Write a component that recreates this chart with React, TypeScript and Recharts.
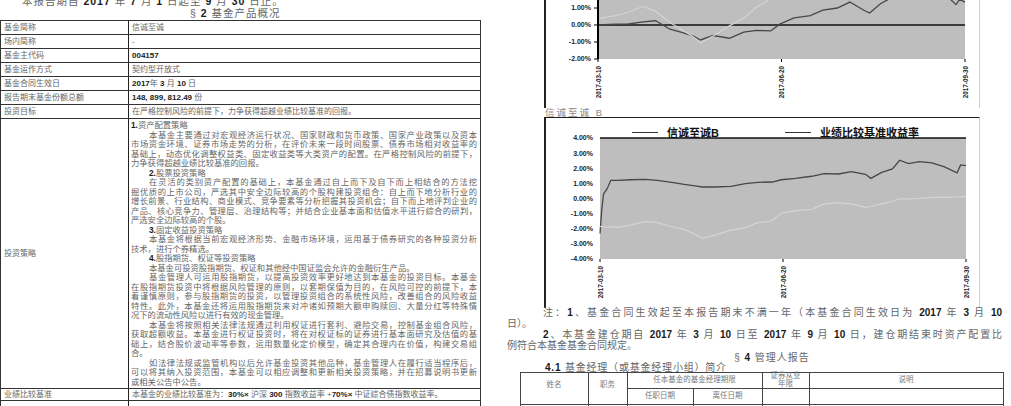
import React from "react";
import { LineChart, Line, XAxis, YAxis, CartesianGrid, ReferenceLine, Legend } from "recharts";

// days since fund inception (2017-03-10), shared by both charts
const DAYS = [0, 1, 2, 4, 6, 10, 17, 25, 32, 40, 47, 53, 57, 64, 73, 81, 88, 96, 101, 109, 118, 125, 133, 140, 148, 151, 157, 163, 167, 172, 178, 185, 192, 199, 201, 204];

// cumulative return, %
const FUND_A = [0.0, 0.0, 0.0, 0.02, 0.03, 0.05, 0.06, 0.18, 0.25, -0.25, -0.45, -0.65, -0.88, -0.62, -0.78, -0.42, -0.32, -0.35, 0.05, 0.42, 0.55, 0.88, 1.0, 1.35, 0.85, 0.7, 1.25, 1.6, 1.9, 2.1, 2.3, 2.2, 1.9, 1.2, 1.5, 1.35];
const BENCH_A = [0.4, 0.4, 0.4, 0.45, 0.5, 0.55, 0.75, 1.1, 0.8, 0.15, -0.3, -0.7, -1.05, -0.65, -0.05, 0.4, 1.05, 1.55, 1.9, 2.4, 2.8, 3.1, 3.3, 3.5, 3.3, 3.2, 3.4, 3.6, 3.9, 3.8, 4.0, 3.9, 3.7, 3.4, 3.5, 3.5];
const FUND_B = [-2.31, -0.7, 0.3, 0.65, 1.2, 1.2, 1.24, 1.27, 1.2, 1.07, 0.93, 0.84, 0.76, 0.76, 0.8, 0.98, 1.07, 1.09, 1.24, 1.33, 1.47, 1.64, 1.62, 1.78, 1.6, 1.33, 1.73, 1.96, 2.53, 2.31, 2.44, 2.36, 2.09, 1.69, 2.22, 2.18];
const BENCH_B = [-1.85, -1.85, -1.88, -1.9, -1.86, -1.91, -1.76, -1.53, -1.6, -1.87, -2.04, -2.36, -2.64, -2.42, -2.09, -1.93, -1.6, -1.47, -0.98, -0.8, -0.71, -0.36, -0.27, -0.36, -0.58, -0.53, -0.36, -0.18, -0.02, -0.02, 0.0, 0.07, 0.07, 0.11, 0.13, 0.13];

const X_TICKS = [0, 102, 204];
const X_LABELS = ["2017-03-10", "2017-06-20", "2017-09-30"];
const Y_TICKS_A = [-2, -1, 0, 1, 2, 3, 4, 5];
const Y_TICKS_B = [-4, -3, -2, -1, 0, 1, 2, 3, 4];
const NAMES_A = ["信诚至诚A", "业绩比较基准收益率"];
const NAMES_B = ["信诚至诚B", "业绩比较基准收益率"];

const FONT = '"Liberation Sans", Arial, "Noto Sans CJK SC", sans-serif';
const PLOT_BG = "#bebebe";
const FUND_COLOR = "#474747";
const BENCH_COLOR = "#d4d4d4";
const GREY_TEXT = "#666";

const dataA = DAYS.map((day, i) => ({ day, fund: FUND_A[i], bench: BENCH_A[i] }));
const dataB = DAYS.map((day, i) => ({ day, fund: FUND_B[i], bench: BENCH_B[i] }));

const pct = (v: number) => `${v.toFixed(2)}%`;

const SIMPLE_ROWS: [string, string][] = [
  ["基金简称", "信诚至诚"],
  ["场内简称", "-"],
  ["基金主代码", "004157"],
  ["基金运作方式", "契约型开放式"],
  ["基金合同生效日", "2017年 3 月 10 日"],
  ["报告期末基金份额总额", "148, 899, 812.49 份"],
  ["投资目标", "在严格控制风险的前提下，力争获得超越业绩比较基准的回报。"],
];

// [text, indented, justified]
const STRATEGY: [string, boolean, boolean][] = [
  ["1.资产配置策略", false, false],
  ["本基金主要通过对宏观经济运行状况、国家财政和货币政策、国家产业政策以及资本", true, true],
  ["市场资金环境、证券市场走势的分析，在评价未来一段时间股票、债券市场相对收益率的", false, true],
  ["基础上，动态优化调整权益类、固定收益类等大类资产的配置。在严格控制风险的前提下，", false, true],
  ["力争获得超越业绩比较基准的回报。", false, false],
  ["2.股票投资策略", true, false],
  ["在灵活的类别资产配置的基础上，本基金通过自上而下及自下而上相结合的方法挖", true, true],
  ["掘优质的上市公司，严选其中安全边际较高的个股构建投资组合：自上而下地分析行业的", false, true],
  ["增长前景、行业结构、商业模式、竞争要素等分析把握其投资机会；自下而上地评判企业的", false, true],
  ["产品、核心竞争力、管理层、治理结构等；并结合企业基本面和估值水平进行综合的研判，", false, true],
  ["严选安全边际较高的个股。", false, false],
  ["3.固定收益投资策略", true, false],
  ["本基金将根据当前宏观经济形势、金融市场环境，运用基于债券研究的各种投资分析", true, true],
  ["技术，进行个券精选。", false, false],
  ["4.股指期货、权证等投资策略", true, false],
  ["本基金可投资股指期货、权证和其他经中国证监会允许的金融衍生产品。", true, false],
  ["基金管理人可运用股指期货，以提高投资效率更好地达到本基金的投资目标。本基金", true, true],
  ["在股指期货投资中将根据风险管理的原则，以套期保值为目的，在风险可控的前提下，本", false, true],
  ["着谨慎原则，参与股指期货的投资，以管理投资组合的系统性风险，改善组合的风险收益", false, true],
  ["特性。此外，本基金还将运用股指期货来对冲诸如预期大额申购赎回、大量分红等特殊情", false, true],
  ["况下的流动性风险以进行有效的现金管理。", false, false],
  ["本基金将按照相关法律法规通过利用权证进行套利、避险交易，控制基金组合风险，", true, true],
  ["获取超额收益。本基金进行权证投资时，将在对权证标的证券进行基本面研究及估值的基", false, true],
  ["础上，结合股价波动率等参数，运用数量化定价模型，确定其合理内在价值，构建交易组", false, true],
  ["合。", false, false],
  ["如法律法规或监管机构以后允许基金投资其他品种，基金管理人在履行适当程序后，", true, true],
  ["可以将其纳入投资范围，本基金可以相应调整和更新相关投资策略，并在招募说明书更新", false, true],
  ["或相关公告中公告。", false, false],
];

// digits come out bold and black in the scan
const rich = (s: string) =>
  s.split(/(\d[\d.,%× ]*)/).map((part, i) =>
    i % 2 ? <b key={i} style={{ color: "#1a1a1a" }}>{part}</b> : <React.Fragment key={i}>{part}</React.Fragment>
  );

const Txt = ({ x, y, w, size = 8, align = "left", color = GREY_TEXT, spacing = 0, children }: any) => (
  <div
    style={{
      position: "absolute",
      left: x,
      top: y - size / 2 - 1,
      width: w,
      fontSize: size,
      lineHeight: `${size + 2}px`,
      letterSpacing: spacing,
      whiteSpace: "nowrap",
      textAlign: align,
      textAlignLast: align,
      color,
    }}
  >
    {children}
  </div>
);

const HLine = ({ x, y, w, c = "#333", t = 1 }: any) => (
  <div style={{ position: "absolute", left: x, top: y, width: w, height: t, background: c }} />
);
const VLine = ({ x, y, h, c = "#333", t = 1 }: any) => (
  <div style={{ position: "absolute", left: x, top: y, width: t, height: h, background: c }} />
);

const DateTick = ({ x, y, payload }: any) => (
  <g transform={`translate(${x},${y})`}>
    <text transform="rotate(-90)" textAnchor="end" dy={2.5} fontSize={6.3} fontWeight="bold" fill="#222" fontFamily={FONT}>
      {X_LABELS[X_TICKS.indexOf(payload.value)]}
    </text>
  </g>
);

const LegendRow = ({ payload, names }: any) => {
  const items = [...(payload || [])].sort((a: any, b: any) => names.indexOf(a.value) - names.indexOf(b.value));
  return (
    <div style={{ display: "flex", alignItems: "center", fontFamily: FONT, fontSize: 11, fontWeight: "bold", color: "#111", whiteSpace: "nowrap" }}>
      {items.map((p: any, i: number) => (
        <div key={p.value} style={{ display: "flex", alignItems: "center", width: i === 0 ? 153 : undefined }}>
          <span style={{ display: "inline-block", width: 26, borderTop: "1.5px solid #333", marginRight: 9 }} />
          {p.value}
        </div>
      ))}
    </div>
  );
};

type ChartProps = {
  data: { day: number; fund: number; bench: number }[];
  names: string[];
  yTicks: number[];
  axisWidth: number;
  marginRight: number;
  xAxisHeight: number;
  refY: number;
  leftAxis: boolean;
};

const ReturnChart = ({ data, names, yTicks, axisWidth, marginRight, xAxisHeight, refY, leftAxis }: ChartProps) => (
  <LineChart width={433} height={187} data={data} margin={{ top: 20, right: marginRight, bottom: 6, left: 0 }}>
    <CartesianGrid horizontal={false} vertical={false} fill={PLOT_BG} fillOpacity={1} stroke="none" />
    <XAxis
      dataKey="day"
      type="number"
      domain={[0, 204]}
      ticks={X_TICKS}
      interval={0}
      height={xAxisHeight}
      axisLine={false}
      tickLine={{ stroke: "#000" }}
      tickSize={3}
      tickMargin={4}
      tick={<DateTick />}
    />
    <YAxis
      type="number"
      domain={[yTicks[0], yTicks[yTicks.length - 1]]}
      ticks={yTicks}
      interval={0}
      width={axisWidth}
      allowDataOverflow
      axisLine={leftAxis ? { stroke: "#000", strokeWidth: 2 } : false}
      tickLine={leftAxis ? { stroke: "#000" } : false}
      tickSize={4}
      tickMargin={3}
      tickFormatter={pct}
      tick={{ fontSize: 7, fontWeight: "bold", fill: "#222", fontFamily: FONT }}
    />
    <ReferenceLine y={refY} stroke="#111" strokeWidth={1.5} />
    <Legend
      layout="horizontal"
      verticalAlign="middle"
      align="center"
      wrapperStyle={{ top: 6, left: 87, width: 340, height: 14 }}
      content={<LegendRow names={names} />}
    />
    <Line type="linear" dataKey="fund" name={names[0]} stroke={FUND_COLOR} strokeWidth={1.3} dot={false} isAnimationActive={false} />
    <Line type="linear" dataKey="bench" name={names[1]} stroke={BENCH_COLOR} strokeWidth={1.2} dot={false} isAnimationActive={false} />
  </LineChart>
);

const LeftTable = () => {
  const top = 20;
  const rowH = 14;
  const bigTop = top + SIMPLE_ROWS.length * rowH;
  const bigBottom = 388;
  return (
    <>
      <HLine x={0} y={top} w={481} />
      <VLine x={0} y={top} h={400} />
      <VLine x={480} y={top} h={400} />
      <VLine x={128} y={top} h={400} c="#222" />
      {SIMPLE_ROWS.map(([label, value], i) => (
        <React.Fragment key={label}>
          <Txt x={4} y={top + i * rowH + 7.5}>{label}</Txt>
          <Txt x={132} y={top + i * rowH + 7.5}>{rich(value)}</Txt>
          <HLine x={0} y={top + (i + 1) * rowH} w={481} />
        </React.Fragment>
      ))}
      <Txt x={4} y={(bigTop + bigBottom) / 2 + 1}>投资策略</Txt>
      <div style={{ position: "absolute", left: 131, top: bigTop + 3, width: 346, fontSize: 8.3, color: GREY_TEXT }}>
        {STRATEGY.map(([t, indent, just], i) => (
          <div
            key={i}
            style={{
              height: 9.5,
              lineHeight: "9.5px",
              whiteSpace: "nowrap",
              paddingLeft: indent ? 18 : 0,
              textAlign: just ? "justify" : "left",
              textAlignLast: just ? "justify" : "left",
            }}
          >
            {rich(t)}
          </div>
        ))}
      </div>
      <HLine x={0} y={bigBottom} w={481} />
      <Txt x={4} y={394.5}>业绩比较基准</Txt>
      <Txt x={132} y={394.5}>{rich("本基金的业绩比较基准为：30%× 沪深 300 指数收益率 +70%× 中证综合债指数收益率。")}</Txt>
      <HLine x={0} y={400} w={481} />
    </>
  );
};

const ManagerTable = () => {
  const cols = [520, 588, 627, 693, 762, 809, 1003];
  return (
    <>
      <HLine x={520} y={372} w={484} c="#444" />
      <HLine x={627} y={388} w={377} c="#444" />
      <HLine x={520} y={404} w={484} c="#444" />
      {cols.map((c) => (
        <VLine key={c} x={c} y={c === 693 ? 388 : 372} h={c === 693 ? 24 : 40} c="#444" />
      ))}
      <Txt x={520} y={385} w={68} size={7.5} align="center" color="#777">姓名</Txt>
      <Txt x={588} y={385} w={39} size={7.5} align="center" color="#777">职务</Txt>
      <Txt x={627} y={380} w={135} size={7.5} align="center" color="#777">任本基金的基金经理期限</Txt>
      <Txt x={762} y={376} w={47} size={7.5} align="center" color="#777">证券从业</Txt>
      <Txt x={762} y={383.5} w={47} size={7.5} align="center" color="#777">年限</Txt>
      <Txt x={809} y={380} w={194} size={7.5} align="center" color="#777">说明</Txt>
      <Txt x={627} y={396} w={66} size={7.5} align="center" color="#777">任职日期</Txt>
      <Txt x={693} y={396} w={69} size={7.5} align="center" color="#777">离任日期</Txt>
    </>
  );
};

export default function App() {
  return (
    <div style={{ position: "absolute", left: 0, top: 0, width: 1011, height: 406, overflow: "hidden", background: "#fff", fontFamily: FONT }}>
      <Txt x={22} y={1} size={10.5} spacing={1}>{rich("本报告期自 2017 年 7 月 1 日起至 9 月 30 日止。")}</Txt>
      <Txt x={190} y={13} size={10.5} spacing={1}>{rich("§ 2 基金产品概况")}</Txt>
      <LeftTable />

      {/* fund A chart, cut off by the top of the page */}
      <div style={{ position: "absolute", left: 544, top: -80, width: 433, height: 188, borderLeft: "2px solid #222", borderRight: "1px solid #d0d0d0" }} />
      <div style={{ position: "absolute", left: 545, top: -80 }}>
        <ReturnChart data={dataA} names={NAMES_A} yTicks={Y_TICKS_A} axisWidth={53} marginRight={13} xAxisHeight={42} refY={0} leftAxis />
      </div>

      <Txt x={545} y={113} size={9.5} spacing={2} color="#888">信诚至诚 B</Txt>

      <div style={{ position: "absolute", left: 544, top: 117, width: 433, height: 190, borderTop: "1.5px solid #222", borderLeft: "2px solid #222", borderRight: "1px solid #d0d0d0" }} />
      <div style={{ position: "absolute", left: 545, top: 118 }}>
        <ReturnChart data={dataB} names={NAMES_B} yTicks={Y_TICKS_B} axisWidth={55} marginRight={12} xAxisHeight={40} refY={4} leftAxis={false} />
      </div>

      <Txt x={543} y={313} w={459} size={10} align="justify">{rich("注：1、基金合同生效起至本报告期末不满一年（本基金合同生效日为 2017 年 3 月 10")}</Txt>
      <Txt x={507} y={324} size={10}>日）。</Txt>
      <Txt x={543} y={335} w={459} size={10} align="justify">{rich("2、本基金建仓期自 2017 年 3 月 10 日至 2017 年 9 月 10 日，建仓期结束时资产配置比")}</Txt>
      <Txt x={507} y={346} size={10}>例符合本基金基金合同规定。</Txt>
      <Txt x={672} y={358} w={200} size={10} align="center" spacing={1}>{rich("§ 4 管理人报告")}</Txt>
      <Txt x={545} y={368} size={10} spacing={0.8}>{rich("4.1 基金经理（或基金经理小组）简介")}</Txt>
      <ManagerTable />
    </div>
  );
}
